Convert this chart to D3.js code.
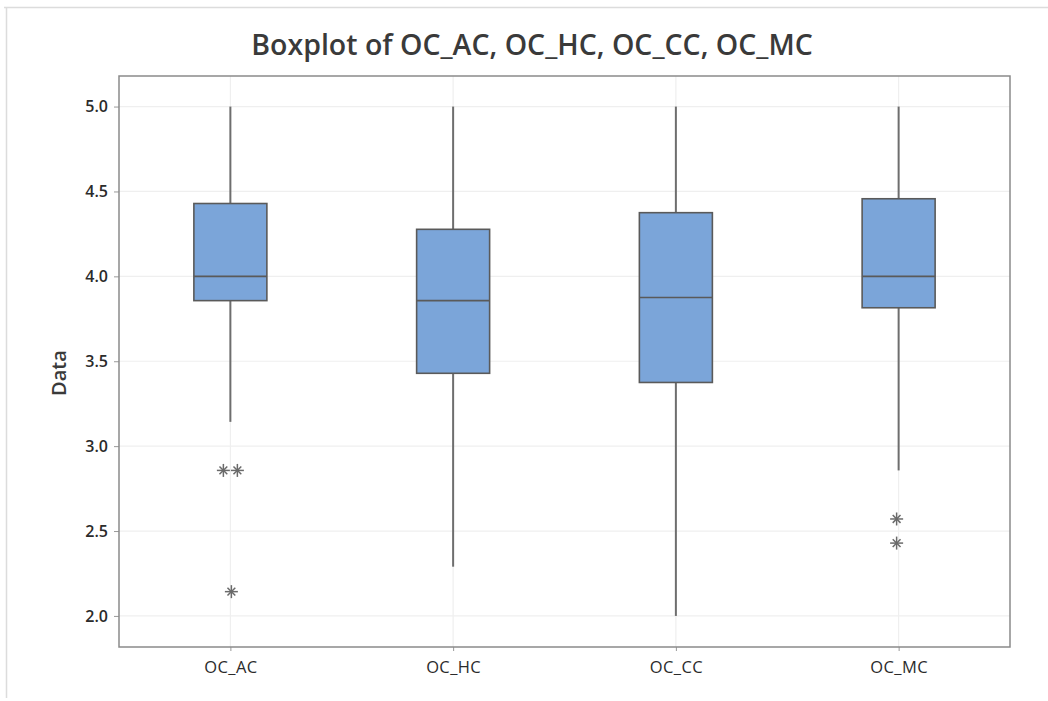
<!DOCTYPE html>
<html>
<head>
<meta charset="utf-8">
<script src="https://cdn.jsdelivr.net/npm/d3@7"></script>
<style>
  html, body { margin: 0; padding: 0; background: #fff; }
  svg { display: block; font-family: "Open Sans", "Noto Sans", sans-serif; }
  svg text { font-family: "Open Sans", "Noto Sans", sans-serif; }
</style>
</head>
<body>
<svg id="chart" width="1048" height="701"></svg>
<script>
// Boxplot summaries for each variable
const categories = ["OC_AC", "OC_HC", "OC_CC", "OC_MC"];
const whiskerLow  = [3.143, 2.29, 2.0, 2.857];
const q1          = [3.857, 3.429, 3.375, 3.815];
const medians     = [4.0, 3.857, 3.875, 4.0];
const q3          = [4.429, 4.277, 4.375, 4.457];
const whiskerHigh = [5.0, 5.0, 5.0, 5.0];
// Outliers: [category index, value, horizontal offset for tied values]
const outlierCat    = [0, 0, 0, 3, 3];
const outlierValue  = [2.857, 2.857, 2.143, 2.571, 2.429];
const outlierJitter = [-7, 7, 1, -2, -2];
const yTicks = [2.0, 2.5, 3.0, 3.5, 4.0, 4.5, 5.0];

const W = 1048, H = 701;
const plot = { left: 119, right: 1010, top: 76, bottom: 647 };
const FONT = '"Open Sans", "Noto Sans", sans-serif';

const svg = d3.select("#chart");

// Outer light frame (top and left edges)
svg.append("line").attr("x1", 4).attr("x2", W).attr("y1", 7.5).attr("y2", 7.5)
  .attr("stroke", "#dcdcdc").attr("stroke-width", 1.5);
svg.append("line").attr("x1", 6.5).attr("x2", 6.5).attr("y1", 7).attr("y2", 698)
  .attr("stroke", "#dcdcdc").attr("stroke-width", 1.5);

const y = d3.scaleLinear().domain([1.817, 5.18]).range([plot.bottom, plot.top]);
const x = d3.scalePoint().domain(categories).range([plot.left, plot.right]).padding(0.5);

// Gridlines
svg.append("g").selectAll("line.h").data(yTicks).join("line")
  .attr("x1", plot.left).attr("x2", plot.right)
  .attr("y1", d => y(d)).attr("y2", d => y(d))
  .attr("stroke", "#efefef").attr("stroke-width", 1.2);
svg.append("g").selectAll("line.v").data(categories).join("line")
  .attr("x1", d => x(d)).attr("x2", d => x(d))
  .attr("y1", plot.top).attr("y2", plot.bottom)
  .attr("stroke", "#efefef").attr("stroke-width", 1.2);

// Axes
const yAxis = d3.axisLeft(y).tickValues(yTicks).tickFormat(d3.format(".1f"))
  .tickSize(5).tickPadding(6);
const gy = svg.append("g").attr("transform", `translate(${plot.left},0)`).call(yAxis)
  .attr("font-family", FONT);
gy.select(".domain").remove();
gy.selectAll(".tick line").attr("stroke", "#999");
gy.selectAll(".tick text").attr("fill", "#2b2b2b")
  .style("font-size", "16px").style("font-weight", 600);

const xAxis = d3.axisBottom(x).tickSize(4).tickPadding(10);
const gx = svg.append("g").attr("transform", `translate(0,${plot.bottom})`).call(xAxis)
  .attr("font-family", FONT);
gx.select(".domain").remove();
gx.selectAll(".tick line").attr("stroke", "#999");
gx.selectAll(".tick text").attr("fill", "#2b2b2b")
  .style("font-size", "16.5px").style("font-weight", 400)
  .style("letter-spacing", "0.4px");

// Plot frame
svg.append("rect")
  .attr("x", plot.left).attr("y", plot.top)
  .attr("width", plot.right - plot.left).attr("height", plot.bottom - plot.top)
  .attr("fill", "none").attr("stroke", "#8a8a8a").attr("stroke-width", 1.5);

// Boxes
const boxW = 73;
const boxes = categories.map((c, i) => ({
  c, lo: whiskerLow[i], q1: q1[i], med: medians[i], q3: q3[i], hi: whiskerHigh[i]
}));
const gb = svg.append("g");
boxes.forEach(b => {
  const cx = x(b.c);
  gb.append("line").attr("x1", cx).attr("x2", cx).attr("y1", y(b.hi)).attr("y2", y(b.q3))
    .attr("stroke", "#6e6e6e").attr("stroke-width", 2);
  gb.append("line").attr("x1", cx).attr("x2", cx).attr("y1", y(b.q1)).attr("y2", y(b.lo))
    .attr("stroke", "#6e6e6e").attr("stroke-width", 2);
  gb.append("rect").attr("x", cx - boxW / 2).attr("y", y(b.q3))
    .attr("width", boxW).attr("height", y(b.q1) - y(b.q3))
    .attr("fill", "#7ba5d9").attr("stroke", "#5a5a5a").attr("stroke-width", 1.6);
  gb.append("line").attr("x1", cx - boxW / 2).attr("x2", cx + boxW / 2)
    .attr("y1", y(b.med)).attr("y2", y(b.med))
    .attr("stroke", "#5a5a5a").attr("stroke-width", 1.6);
});

// Outlier asterisks (vertical, horizontal and two diagonal strokes)
const star = (g, cx, cy, r) => {
  [0, 45, 90, 135].forEach(deg => {
    const a = deg * Math.PI / 180;
    const rr = deg % 90 === 0 ? r : r * 0.85;
    g.append("line")
      .attr("x1", cx - rr * Math.cos(a)).attr("y1", cy - rr * Math.sin(a))
      .attr("x2", cx + rr * Math.cos(a)).attr("y2", cy + rr * Math.sin(a))
      .attr("stroke", "#6a6a6a").attr("stroke-width", 1.5);
  });
};
const go = svg.append("g");
outlierValue.forEach((v, i) => {
  star(go, x(categories[outlierCat[i]]) + outlierJitter[i], y(v), 6.5);
});

// Title
svg.append("text").attr("x", 532).attr("y", 55).attr("text-anchor", "middle")
  .attr("fill", "#3a3a3a").style("font-size", "28.5px").style("font-weight", 600)
  .text("Boxplot of OC_AC, OC_HC, OC_CC, OC_MC");

// Y axis title
svg.append("text").attr("transform", `translate(66,373) rotate(-90)`)
  .attr("text-anchor", "middle").attr("fill", "#3a3a3a")
  .style("font-size", "20px").style("font-weight", 600)
  .text("Data");
</script>
</body>
</html>
